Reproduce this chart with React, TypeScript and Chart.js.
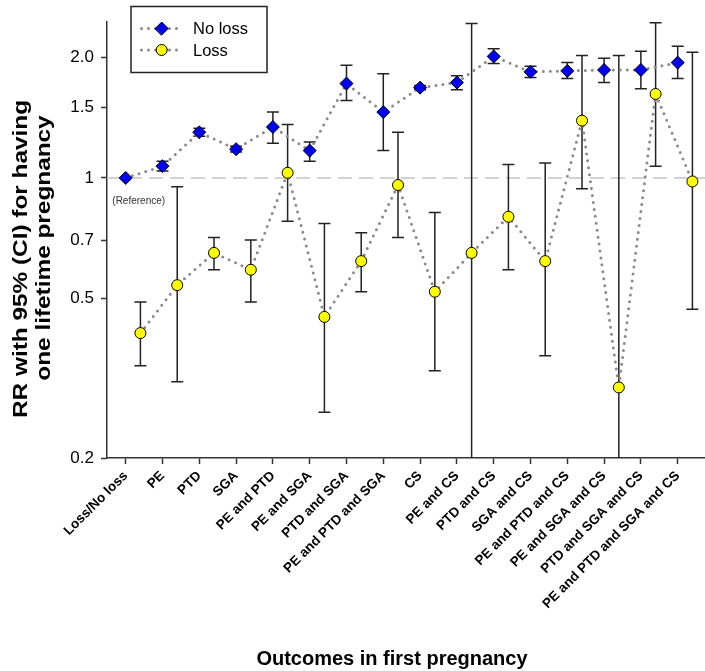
import React, { useEffect, useRef } from "react";
import { Chart, registerables } from "chart.js";

Chart.register(...registerables);

const categories = [
  "Loss/No loss",
  "PE",
  "PTD",
  "SGA",
  "PE and PTD",
  "PE and SGA",
  "PTD and SGA",
  "PE and PTD and SGA",
  "CS",
  "PE and CS",
  "PTD and CS",
  "SGA and CS",
  "PE and PTD and CS",
  "PE and SGA and CS",
  "PTD and SGA and CS",
  "PE and PTD and SGA and CS",
];

const noLossRR = [1.0, 1.07, 1.3, 1.18, 1.34, 1.17, 1.72, 1.46, 1.68, 1.73, 2.01, 1.84, 1.85, 1.86, 1.86, 1.94];
const noLossLower = [null, 1.04, 1.27, 1.16, 1.22, 1.1, 1.56, 1.17, 1.66, 1.66, 1.93, 1.78, 1.77, 1.73, 1.67, 1.77];
const noLossUpper = [null, 1.1, 1.33, 1.2, 1.46, 1.23, 1.91, 1.82, 1.7, 1.8, 2.1, 1.9, 1.94, 1.99, 2.07, 2.13];

const lossRR = [0.41, 0.54, 0.65, 0.59, 1.03, 0.45, 0.62, 0.96, 0.52, 0.65, 0.8, 0.62, 1.39, 0.3, 1.62, 0.98];
const lossLower = [0.34, 0.31, 0.59, 0.49, 0.78, 0.26, 0.52, 0.71, 0.33, 0.12, 0.59, 0.36, 0.94, 0.12, 1.07, 0.47];
const lossUpper = [0.49, 0.95, 0.71, 0.7, 1.36, 0.77, 0.73, 1.3, 0.82, 2.43, 1.08, 1.09, 2.02, 2.02, 2.44, 2.06];

const yTickValues = [0.2, 0.5, 0.7, 1, 1.5, 2];
const yTickLabels = ["0.2", "0.5", "0.7", "1", "1.5", "2.0"];
const referenceValue = 1;

const seriesNames = ["No loss", "Loss"];
const yTitleLines = ["RR with 95% (CI) for having", "one lifetime pregnancy"];
const xTitle = "Outcomes in first pregnancy";
const referenceNote = "(Reference)";

const LOSS_SHIFT = 0.4;
const BLUE = "#0000f0";
const YELLOW = "#ffff00";
const DOT = "#8a8a8a";
const AXIS = "#333333";
const FONT = "'Liberation Sans', Arial, sans-serif";

function drawDiamond(ctx: CanvasRenderingContext2D, x: number, y: number, r: number) {
  ctx.beginPath();
  ctx.moveTo(x - r, y);
  ctx.lineTo(x, y - r);
  ctx.lineTo(x + r, y);
  ctx.lineTo(x, y + r);
  ctx.closePath();
  ctx.fillStyle = BLUE;
  ctx.fill();
  ctx.strokeStyle = "#000";
  ctx.lineWidth = 1;
  ctx.stroke();
}

function drawCircle(ctx: CanvasRenderingContext2D, x: number, y: number, r: number) {
  ctx.beginPath();
  ctx.arc(x, y, r, 0, Math.PI * 2);
  ctx.fillStyle = YELLOW;
  ctx.fill();
  ctx.strokeStyle = "#000";
  ctx.lineWidth = 1;
  ctx.stroke();
}

const overlayPlugin = {
  id: "overlay",
  beforeDatasetsDraw(chart: any) {
    const { ctx, chartArea } = chart;
    const xs = chart.scales.x;
    const ys = chart.scales.y;
    ctx.save();
    const yRef = ys.getPixelForValue(referenceValue);
    ctx.beginPath();
    ctx.setLineDash([14, 7]);
    ctx.strokeStyle = "#c4c4c4";
    ctx.lineWidth = 1.5;
    ctx.moveTo(chartArea.left, yRef);
    ctx.lineTo(chartArea.right, yRef);
    ctx.stroke();
    ctx.setLineDash([]);

    ctx.beginPath();
    ctx.rect(chartArea.left, chartArea.top - 20, chartArea.right - chartArea.left, chartArea.bottom - chartArea.top + 20);
    ctx.clip();
    const bars = [
      { lo: noLossLower, hi: noLossUpper, shift: 0 },
      { lo: lossLower, hi: lossUpper, shift: LOSS_SHIFT },
    ];
    ctx.strokeStyle = "#222";
    ctx.lineWidth = 1.5;
    bars.forEach((b) => {
      b.lo.forEach((lo, i) => {
        const hi = b.hi[i];
        if (lo == null || hi == null) return;
        const px = xs.getPixelForValue(i + b.shift);
        const pLo = ys.getPixelForValue(lo);
        const pHi = ys.getPixelForValue(hi);
        const bottom = Math.min(pLo, chartArea.bottom);
        ctx.beginPath();
        ctx.moveTo(px, pHi);
        ctx.lineTo(px, bottom);
        ctx.moveTo(px - 6, pHi);
        ctx.lineTo(px + 6, pHi);
        if (pLo <= chartArea.bottom) {
          ctx.moveTo(px - 6, pLo);
          ctx.lineTo(px + 6, pLo);
        }
        ctx.stroke();
      });
    });
    ctx.restore();
  },
  afterDraw(chart: any) {
    const { ctx } = chart;
    const xs = chart.scales.x;
    const ys = chart.scales.y;
    ctx.save();
    ctx.fillStyle = "#333";
    ctx.font = `10px ${FONT}`;
    ctx.textAlign = "center";
    ctx.textBaseline = "middle";
    ctx.fillText(referenceNote, xs.getPixelForValue(0) + 13, ys.getPixelForValue(referenceValue) + 23);

    ctx.strokeStyle = "#222";
    ctx.lineWidth = 1.5;
    ctx.fillStyle = "#fff";
    ctx.fillRect(131, 6.5, 136, 66);
    ctx.strokeRect(131, 6.5, 136, 66);
    const rows = [28.5, 50];
    rows.forEach((ry, k) => {
      ctx.beginPath();
      ctx.setLineDash([0, 7]);
      ctx.lineCap = "round";
      ctx.strokeStyle = DOT;
      ctx.lineWidth = 3;
      ctx.moveTo(141.5, ry);
      ctx.lineTo(183, ry);
      ctx.stroke();
      ctx.setLineDash([]);
      if (k === 0) drawDiamond(ctx, 161.7, ry, 6.5);
      else drawCircle(ctx, 161.7, ry, 5.5);
      ctx.fillStyle = "#000";
      ctx.font = `16.5px ${FONT}`;
      ctx.textAlign = "left";
      ctx.textBaseline = "middle";
      ctx.fillText(seriesNames[k], 193, ry + 1);
    });

    ctx.fillStyle = "#000";
    ctx.font = `bold 20px ${FONT}`;
    ctx.textAlign = "center";
    ctx.textBaseline = "alphabetic";
    ctx.fillText(xTitle, 392, 665);

    ctx.font = `bold 21px ${FONT}`;
    ctx.save();
    ctx.translate(0, 259);
    ctx.rotate(-Math.PI / 2);
    ctx.scale(1.16, 1);
    ctx.fillText(yTitleLines[0], 0, 27);
    ctx.restore();
    ctx.save();
    ctx.translate(0, 248);
    ctx.rotate(-Math.PI / 2);
    ctx.scale(1.16, 1);
    ctx.fillText(yTitleLines[1], 0, 50);
    ctx.restore();
    ctx.restore();
  },
};

export default function App() {
  const ref = useRef<HTMLCanvasElement | null>(null);
  useEffect(() => {
    if (!ref.current) return;
    const chart = new Chart(ref.current, {
      type: "scatter",
      data: {
        datasets: [
          {
            label: seriesNames[0],
            data: noLossRR.map((v, i) => ({ x: i, y: v })),
            showLine: true,
            borderColor: DOT,
            borderWidth: 3,
            borderDash: [0, 7],
            borderCapStyle: "round",
            pointStyle: "rectRot",
            pointRadius: 6.5,
            pointBackgroundColor: BLUE,
            pointBorderColor: "#000",
            pointBorderWidth: 1,
            order: 0,
          },
          {
            label: seriesNames[1],
            data: lossRR.map((v, i) => ({ x: i + LOSS_SHIFT, y: v })),
            showLine: true,
            borderColor: DOT,
            borderWidth: 3,
            borderDash: [0, 7],
            borderCapStyle: "round",
            pointStyle: "circle",
            pointRadius: 5.5,
            pointBackgroundColor: YELLOW,
            pointBorderColor: "#000",
            pointBorderWidth: 1,
            order: 1,
          },
        ],
      } as any,
      options: {
        responsive: false,
        animation: false,
        events: [],
        layout: { autoPadding: false, padding: { top: 22, left: 0, right: 0, bottom: 0 } },
        plugins: { legend: { display: false }, tooltip: { enabled: false } },
        scales: {
          x: {
            type: "linear",
            min: -0.508,
            max: 15.742,
            afterBuildTicks: (scale: any) => {
              scale.ticks = categories.map((_, i) => ({ value: i }));
            },
            afterFit: (scale: any) => {
              scale.height = 213;
              scale.paddingLeft = 0;
              scale.paddingRight = 0;
            },
            grid: { display: true, drawOnChartArea: false, drawTicks: true, tickLength: 6, tickColor: AXIS, tickWidth: 1.5 },
            border: { display: true, color: AXIS, width: 1.5 },
            ticks: {
              autoSkip: false,
              maxRotation: 45,
              minRotation: 45,
              padding: 4,
              color: "#000",
              font: { family: FONT, size: 13.5, weight: "bold" },
              callback: (v: any) => categories[Math.round(Number(v))] ?? "",
            },
          },
          y: {
            type: "logarithmic",
            min: 0.2,
            max: 2.45,
            afterBuildTicks: (scale: any) => {
              scale.ticks = yTickValues.map((v) => ({ value: v }));
            },
            afterFit: (scale: any) => {
              scale.width = 107;
              scale.paddingTop = 0;
              scale.paddingBottom = 0;
            },
            grid: { display: true, drawOnChartArea: false, drawTicks: true, tickLength: 6, tickColor: AXIS, tickWidth: 1.5 },
            border: { display: true, color: AXIS, width: 1.5 },
            ticks: {
              autoSkip: false,
              padding: 7,
              color: "#000",
              font: { family: FONT, size: 17 },
              callback: (v: any) => {
                const idx = yTickValues.findIndex((t) => Math.abs(t - Number(v)) < 1e-6);
                return idx >= 0 ? yTickLabels[idx] : "";
              },
            },
          },
        },
      } as any,
      plugins: [overlayPlugin],
    });
    return () => chart.destroy();
  }, []);
  return (
    <canvas
      ref={ref}
      width={705}
      height={671}
      style={{ position: "absolute", left: 0, top: 0, width: 705, height: 671, background: "#fff" }}
    />
  );
}
